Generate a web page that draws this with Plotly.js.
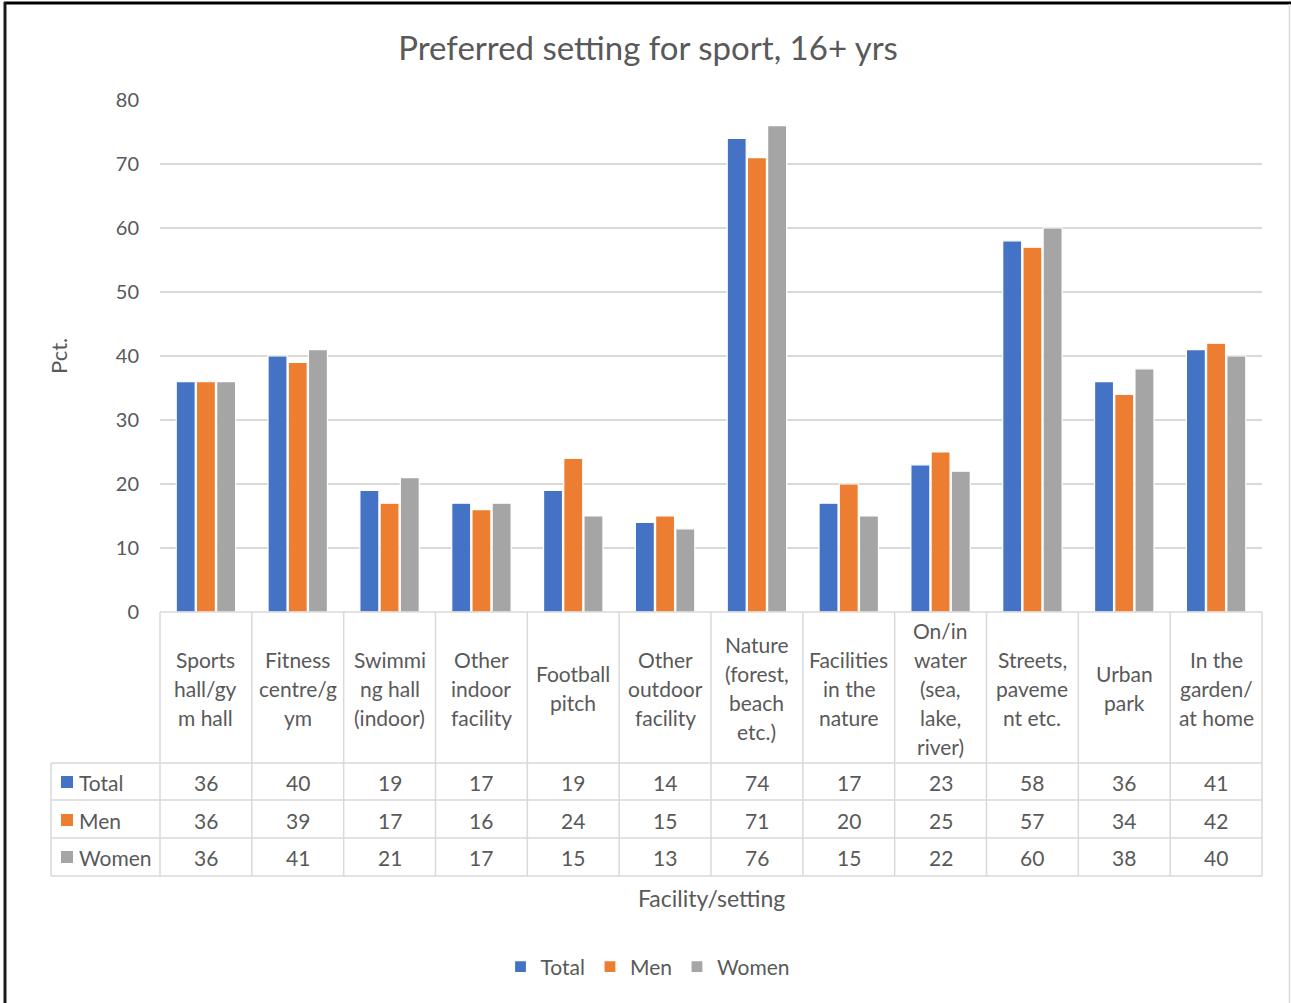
<!DOCTYPE html>
<html>
<head>
<meta charset="utf-8">
<script src="https://cdn.plot.ly/plotly-3.0.1.min.js"></script>
<style>
  html, body { margin: 0; padding: 0; background: #ffffff; }
  #chart { width: 1291px; height: 1003px; }
</style>
</head>
<body>
<div id="chart"></div>
<script>
// Category labels, wrapped the way they appear in the data table header
const categories = [
  "Sports<br>hall/gy<br>m hall",
  "Fitness<br>centre/g<br>ym",
  "Swimmi<br>ng hall<br>(indoor)",
  "Other<br>indoor<br>facility",
  "Football<br>pitch",
  "Other<br>outdoor<br>facility",
  "Nature<br>(forest,<br>beach<br>etc.)",
  "Facilities<br>in the<br>nature",
  "On/in<br>water<br>(sea,<br>lake,<br>river)",
  "Streets,<br>paveme<br>nt etc.",
  "Urban<br>park",
  "In the<br>garden/<br>at home"
];

const seriesNames = ["Total", "Men", "Women"];
const totalValues = [36, 40, 19, 17, 19, 14, 74, 17, 23, 58, 36, 41];
const menValues   = [36, 39, 17, 16, 24, 15, 71, 20, 25, 57, 34, 42];
const womenValues = [36, 41, 21, 17, 15, 13, 76, 15, 22, 60, 38, 40];

const yTicks = [0, 10, 20, 30, 40, 50, 60, 70, 80];

const seriesValues = [totalValues, menValues, womenValues];
const seriesColors = ["#4472C4", "#ED7D31", "#A5A5A5"];

// Page geometry (pixels) of the plotting area
const W = 1291, H = 1003;
const M = { l: 160, r: 29, t: 100, b: 391 };
const PW = W - M.l - M.r;   // 1102
const PH = H - M.t - M.b;   // 512
const px = x => (x - M.l) / PW;          // page x -> paper x
const py = y => (H - M.b - y) / PH;      // page y -> paper y

const textColor = "#595959";
const gridColor = "#D9D9D9";
const font = "Lato, 'Open Sans', sans-serif";

// Bars
const traces = seriesNames.map((name, k) => ({
  type: "bar",
  name: name,
  x: categories,
  y: seriesValues[k],
  marker: { color: seriesColors[k], line: { color: "#ffffff", width: 1.2 } },
  hoverinfo: "x+y+name"
}));

// Data table grid
const shapes = [];
const tableLine = { color: gridColor, width: 1.5 };
const headerBottom = 763, rowLines = [800, 838, 876];
const labelLeft = 51;
const n = categories.length;

// horizontal rules
shapes.push({ type: "line", xref: "paper", yref: "paper", x0: 0, x1: 1, y0: 0, y1: 0, line: tableLine });
[headerBottom].concat(rowLines).forEach(y => {
  shapes.push({ type: "line", xref: "paper", yref: "paper",
    x0: px(labelLeft), x1: 1, y0: py(y), y1: py(y), line: tableLine });
});
// vertical rules at category boundaries
for (let i = 0; i <= n; i++) {
  shapes.push({ type: "line", xref: "paper", yref: "paper",
    x0: i / n, x1: i / n, y0: 0, y1: py(876), line: tableLine });
}
shapes.push({ type: "line", xref: "paper", yref: "paper",
  x0: px(labelLeft), x1: px(labelLeft), y0: py(headerBottom), y1: py(876), line: tableLine });

// row-label colour keys
const rowCenters = [782, 820, 857];
rowCenters.forEach((yc, k) => {
  shapes.push({ type: "rect", xref: "paper", yref: "paper",
    x0: px(61), x1: px(73), y0: py(yc - 6), y1: py(yc + 6),
    fillcolor: seriesColors[k], line: { width: 0 } });
});

// outer frame
shapes.push({ type: "line", xref: "paper", yref: "paper",
  x0: px(4), x1: px(1291), y0: py(3), y1: py(3), line: { color: "#000000", width: 3 } });
shapes.push({ type: "line", xref: "paper", yref: "paper",
  x0: px(5), x1: px(5), y0: py(2), y1: py(1003), line: { color: "#1a1a1a", width: 3 } });
shapes.push({ type: "line", xref: "paper", yref: "paper",
  x0: px(1289.5), x1: px(1289.5), y0: py(4), y1: py(1003), line: { color: "#D9D9D9", width: 1.5 } });

// Table text
const annotations = [];
const cellFont = { family: font, size: 21, color: textColor };
const headerMid = 688, headerLineStep = 29;
categories.forEach((c, i) => {
  // header cell: one annotation per wrapped line, centred in the cell
  const lines = c.split("<br>");
  lines.forEach((ln, j) => {
    const yc = headerMid + (j - (lines.length - 1) / 2) * headerLineStep;
    annotations.push({ xref: "x", yref: "paper", x: i, y: py(yc),
      text: ln, showarrow: false, font: cellFont,
      xanchor: "center", yanchor: "middle" });
  });
  seriesValues.forEach((vals, k) => {
    annotations.push({ xref: "x", yref: "paper", x: i, y: py(rowCenters[k]),
      text: String(vals[i]), showarrow: false, font: cellFont,
      xanchor: "center", yanchor: "middle" });
  });
});
seriesNames.forEach((name, k) => {
  annotations.push({ xref: "paper", yref: "paper", x: px(77), y: py(rowCenters[k]),
    text: name, showarrow: false, font: cellFont, xanchor: "left", yanchor: "middle" });
});

// Axis titles
annotations.push({ xref: "paper", yref: "paper", x: 0.5, y: py(898),
  text: "Facility/setting", showarrow: false,
  font: { family: font, size: 23, color: textColor }, xanchor: "center", yanchor: "middle" });
annotations.push({ xref: "paper", yref: "paper", x: px(58), y: 0.5,
  text: "Pct.", textangle: -90, showarrow: false,
  font: { family: font, size: 22, color: textColor }, xanchor: "center", yanchor: "middle" });

const layout = {
  width: W, height: H,
  margin: M,
  paper_bgcolor: "#ffffff",
  plot_bgcolor: "#ffffff",
  font: { family: font, color: textColor },
  title: {
    text: "Preferred setting for sport, 16+ yrs",
    font: { family: font, size: 33, color: textColor },
    x: 0.502, xanchor: "center", y: 1 - 48 / H, yanchor: "middle"
  },
  barmode: "group",
  bargap: 0.34,
  bargroupgap: 0.06,
  xaxis: {
    type: "category",
    showticklabels: false,
    ticks: "",
    showgrid: false,
    zeroline: false,
    showline: false,
    fixedrange: true
  },
  yaxis: {
    range: [0, 80],
    tickvals: yTicks,
    ticks: "",
    ticklabelstandoff: 20,
    tickfont: { family: font, size: 20, color: textColor },
    showgrid: true,
    gridcolor: gridColor,
    gridwidth: 1.5,
    zeroline: false,
    showline: false,
    fixedrange: true
  },
  showlegend: true,
  legend: {
    orientation: "h",
    x: px(648), xanchor: "center",
    y: py(967), yanchor: "middle",
    font: { family: font, size: 21, color: textColor },
    itemwidth: 30,
    traceorder: "normal",
    bgcolor: "rgba(0,0,0,0)"
  },
  shapes: shapes,
  annotations: annotations
};

Plotly.newPlot("chart", traces, layout, { displayModeBar: false, staticPlot: true });
</script>
</body>
</html>
